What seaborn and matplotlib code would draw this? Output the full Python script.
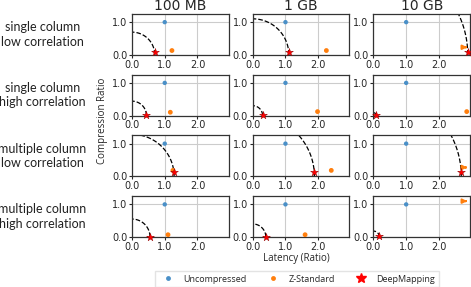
import numpy as np
import pandas as pd
import seaborn as sns
import matplotlib.pyplot as plt

# sizes (columns) and workloads (rows)
sizes = ['100 MB', '1 GB', '10 GB']
workloads = ['single column\nlow correlation', 'single column\nhigh correlation',
             'multiple column\nlow correlation', 'multiple column\nhigh correlation']

# latency / compression ratios, row = workload, col = size
unc_lat = [[1.0, 1.0, 1.0]] * 4
unc_cr = [[1.0, 1.0, 1.0]] * 4
zstd_lat = [[1.22, 2.25, 3.30],
            [1.17, 1.98, 2.85],
            [1.25, 2.40, 3.30],
            [1.10, 1.60, 3.30]]
zstd_cr = [[0.13, 0.13, 0.23],
           [0.10, 0.12, 0.12],
           [0.18, 0.18, 0.27],
           [0.07, 0.07, 1.10]]
dm_lat = [[0.69, 1.10, 2.88],
          [0.44, 0.30, 0.08],
          [1.28, 1.88, 2.68],
          [0.55, 0.40, 0.18]]
dm_cr = [[0.07, 0.07, 0.08],
         [0.01, 0.02, 0.03],
         [0.12, 0.12, 0.12],
         [0.01, 0.01, 0.02]]

XMAX, YMAX = 2.95, 1.25
blue, orange = '#4a90c8', '#ff7f0e'

sns.set_style('ticks')
plt.rcParams['font.family'] = ['DejaVu Sans']

fig, axes = plt.subplots(4, 3, figsize=(4.71, 2.87), dpi=100)
fig.subplots_adjust(left=132/471, right=470/471, top=1-14/287, bottom=1-237/287,
                    wspace=0.25, hspace=0.49)

for i in range(4):
    for j in range(3):
        ax = axes[i, j]
        ax.grid(True, color='#cccccc', lw=0.8, zorder=0)
        # dashed iso-distance arc through the DeepMapping point
        r = np.hypot(dm_lat[i][j], dm_cr[i][j])
        t = np.linspace(0, np.pi / 2, 100)
        ax.plot(r * np.cos(t), r * np.sin(t), ls='--', color='black', lw=0.9, zorder=2)
        sns.scatterplot(x=[unc_lat[i][j]], y=[unc_cr[i][j]], ax=ax, color=blue, s=10,
                        edgecolor='none', zorder=3, legend=False)
        zx, zy = zstd_lat[i][j], zstd_cr[i][j]
        if zx <= XMAX:
            sns.scatterplot(x=[zx], y=[zy], ax=ax, color=orange, s=12,
                            edgecolor='none', zorder=3, legend=False)
        else:
            ax.annotate('', xy=(XMAX, zy), xytext=(XMAX - 0.22, zy),
                        arrowprops=dict(arrowstyle='-|>', color=orange, lw=1.5,
                                        mutation_scale=6), zorder=3)
        sns.scatterplot(x=[dm_lat[i][j]], y=[dm_cr[i][j]], ax=ax, color='red', marker='*',
                        s=35, edgecolor='#8b0000', linewidth=0.3,
                        zorder=4, legend=False, clip_on=False)
        ax.set_xlim(0, XMAX)
        ax.set_ylim(0, YMAX)
        ax.set_xticks([0, 1, 2])
        ax.set_xticklabels(['0.0', '1.0', '2.0'])
        ax.set_yticks([0, 1])
        ax.set_yticklabels(['0.0', '1.0'])
        ax.tick_params(labelsize=7, length=2, pad=1.5, width=0.8)
        ax.set_xlabel('')
        ax.set_ylabel('')
        for s in ax.spines.values():
            s.set_color('#333333')
            s.set_linewidth(0.9)
        if i == 0:
            ax.set_title(sizes[j], fontsize=10, pad=3)
        if j == 0:
            ax.text(-90/97, 0.5, workloads[i], transform=ax.transAxes, ha='center',
                    va='center', fontsize=9, family=['Lato', 'DejaVu Sans'], color='#222222',
                    linespacing=1.25)

fig.text(103/471, 1-121/287, 'Compression Ratio', rotation=90, ha='center', va='center',
         fontsize=7, family=['Open Sans', 'DejaVu Sans'])
fig.text(296/471, 1-259/287, 'Latency (Ratio)', ha='center', va='center', fontsize=7,
         family=['Open Sans', 'DejaVu Sans'])

h = [plt.Line2D([], [], ls='', marker='o', color=blue, ms=3.5, mec='none'),
     plt.Line2D([], [], ls='', marker='o', color=orange, ms=3.5, mec='none'),
     plt.Line2D([], [], ls='', marker='*', color='red', ms=7, mec='red')]
fig.legend(h, ['Uncompressed', 'Z-Standard', 'DeepMapping'], loc='center',
           bbox_to_anchor=(297/471, 1-279/287), ncol=3, fontsize=6.5, frameon=True,
           columnspacing=1.9, handletextpad=0.7, borderpad=0.4, fancybox=False,
           edgecolor='#dddddd', prop={'family': ['Open Sans', 'DejaVu Sans'], 'size': 6.5})

plt.savefig('out.png', dpi=100)
